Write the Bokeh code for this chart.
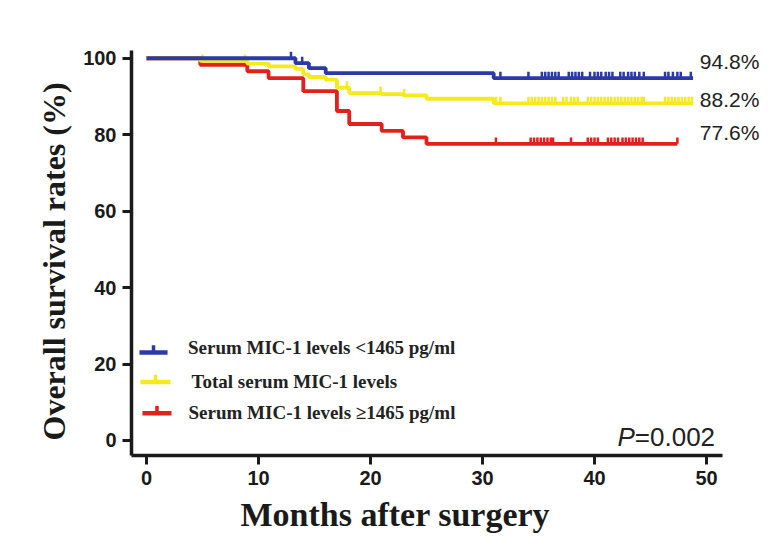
import numpy as np
from bokeh.plotting import figure
from bokeh.models import Range1d, Label, FixedTicker, Title
from bokeh.embed import file_html
from bokeh.resources import INLINE

# ---------------- data ----------------
x_ticks = [0, 10, 20, 30, 40, 50]
y_ticks = [0, 20, 40, 60, 80, 100]

low_times = [0, 13.3, 14.5, 16.0, 31.0]
low_surv = [100, 98.7, 97.4, 96.1, 94.8]
low_end = 48.8
low_cens = [12.9, 13.9, 31.6, 34.1, 35.3, 35.6, 35.9, 36.2, 36.5, 36.8, 37.7, 38.0, 38.3,
            38.6, 38.9, 39.6, 40.0, 40.3, 40.6, 41.0, 41.3, 41.6, 42.3, 42.6, 43.0, 43.3,
            43.6, 44.0, 44.4, 46.3, 46.6, 47.0, 47.4, 47.7, 48.6]

tot_times = [0, 4.8, 9.0, 10.9, 13.3, 14.0, 14.5, 16.0, 17.0, 18.1, 21.0, 22.9, 25.0, 31.0]
tot_surv = [100, 99.3, 98.6, 97.9, 97.2, 95.8, 95.1, 94.4, 92.3, 90.9, 90.6, 90.3, 89.4, 88.2]
tot_end = 48.8
tot_cens = [5.0, 8.8, 17.9, 20.9, 23.0, 31.2, 31.6, 34.1, 34.4, 34.7, 35.0, 35.3, 35.6, 35.9,
            36.2, 36.5, 37.2, 37.5, 37.9, 38.2, 38.5, 39.4, 39.7, 40.0, 40.3, 40.6, 40.9,
            41.2, 41.5, 41.8, 42.1, 42.4, 42.7, 43.0, 43.3, 43.6, 43.9, 44.2, 44.4, 46.3,
            46.6, 46.9, 47.2, 47.5, 47.8, 48.1, 48.4, 48.7]

high_times = [0, 4.8, 9.0, 10.9, 14.0, 17.0, 18.1, 21.0, 22.9, 25.0]
high_surv = [100, 98.3, 96.6, 94.8, 91.4, 86.2, 82.8, 81.0, 79.3, 77.6]
high_end = 47.4
high_cens = [31.2, 34.3, 34.6, 34.9, 35.2, 35.5, 35.8, 36.1, 36.3, 37.9, 39.4, 39.7, 40.0,
             40.3, 41.2, 41.5, 41.8, 42.1, 42.5, 42.8, 43.1, 43.4, 43.7, 44.0, 44.3, 47.4]

final_labels = ["94.8%", "88.2%", "77.6%"]
legend_labels = ["Serum MIC-1 levels <1465 pg/ml", "Total serum MIC-1 levels",
                 "Serum MIC-1 levels \u22651465 pg/ml"]
p_value = "=0.002"
x_title = "Months after surgery"
y_title = "Overall survival rates (%)"

BLUE = "#2b3aa6"
YELLOW = "#f4ea1c"
RED = "#e3211c"
INK = "#1a1a1a"

# ---------------- figure ----------------
p = figure(frame_width=631, frame_height=424, output_backend="svg", toolbar_location=None,
           x_range=Range1d(-1.34, 55.0), y_range=Range1d(-3.93, 107.0),
           min_border_left=131, min_border_right=2, min_border_top=31, min_border_bottom=83)
p.outline_line_color = None
p.xgrid.grid_line_color = None
p.ygrid.grid_line_color = None
p.background_fill_color = "white"
p.border_fill_color = "white"

for ax, ticks in ((p.xaxis[0], x_ticks), (p.yaxis[0], y_ticks)):
    ax.ticker = FixedTicker(ticks=ticks)
    ax.axis_line_width = 3.5
    ax.axis_line_color = INK
    ax.major_tick_line_width = 3
    ax.major_tick_line_color = INK
    ax.major_tick_out = 9
    ax.major_tick_in = 0
    ax.minor_tick_line_color = None
    ax.major_label_text_font = "Liberation Sans"
    ax.major_label_text_font_style = "bold"
    ax.major_label_text_font_size = "20px"
    ax.major_label_text_color = INK

p.xaxis.bounds = (-1.34, 51.4)
p.yaxis.bounds = (-3.93, 102.0)
p.xaxis.major_label_standoff = 6
p.yaxis.major_label_standoff = 6

p.add_layout(Title(text=x_title, align="left", offset=109, standoff=13,
                   text_font="Liberation Serif", text_font_style="bold",
                   text_font_size="34px", text_color=INK), "below")
p.add_layout(Title(text=y_title, align="left", offset=15, standoff=18,
                   text_font="Liberation Serif", text_font_style="bold",
                   text_font_size="32px", text_color=INK), "left")


def draw(times, surv, end, cens, color):
    xs = list(times) + [end]
    ys = list(surv) + [surv[-1]]
    p.step(xs, ys, mode="after", line_color=color, line_width=3.8)
    t = np.asarray(times)
    s = np.asarray(surv)
    c = np.asarray(cens)
    sc = s[np.searchsorted(t, c, side="right") - 1]
    p.segment(x0=c, y0=sc, x1=c, y1=sc + 1.7, line_color=color, line_width=2.5)


draw(high_times, high_surv, high_end, high_cens, RED)
draw(tot_times, tot_surv, tot_end, tot_cens, YELLOW)
draw(low_times, low_surv, low_end, low_cens, BLUE)

# final percentages
for txt, yy in zip(final_labels, [99.1, 89.1, 80.5]):
    p.add_layout(Label(x=49.4, y=yy, text=txt, text_font="Liberation Sans",
                       text_font_size="21px", text_color="#222222", text_baseline="middle"))

# legend (manual)
leg = [(BLUE, 23.0, 24.3, -0.63, 1.88, 3.7),
       (YELLOW, 15.3, 15.4, -0.54, 2.14, 4.02),
       (RED, 7.1, 7.2, -0.36, 2.23, 3.75)]
for (col, ly, ty, x0, x1, tx), txt in zip(leg, legend_labels):
    p.segment(x0=[x0], y0=[ly], x1=[x1], y1=[ly], line_color=col, line_width=4.5)
    xm = (x0 + x1) / 2
    p.segment(x0=[xm], y0=[ly], x1=[xm], y1=[ly + 1.9], line_color=col, line_width=3.5)
    p.add_layout(Label(x=tx, y=ty, text=txt, text_font="Liberation Serif", text_font_style="bold",
                       text_font_size="19px", text_color="#222222", text_baseline="middle"))

# p-value
p.add_layout(Label(x=42.05, y=0.8, text="P", text_font="Liberation Sans", text_font_style="italic",
                   text_font_size="26px", text_color="#222222", text_baseline="middle"))
p.add_layout(Label(x=43.6, y=0.8, text=p_value, text_font="Liberation Sans",
                   text_font_size="26px", text_color="#222222", text_baseline="middle"))

open("out.html", "w").write(file_html(p, INLINE))
